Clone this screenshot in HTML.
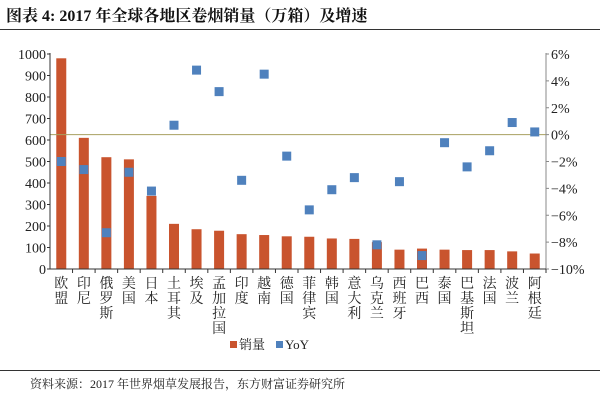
<!DOCTYPE html>
<html><head><meta charset="utf-8"><style>
body{margin:0;width:600px;height:400px;background:#fff;overflow:hidden}
svg text{font-family:"Liberation Serif","Noto Serif CJK SC",serif}
</style></head><body>
<svg id="c" width="600" height="400">
<text x="6" y="21" font-size="16" font-weight="bold" fill="#111">图表 4: 2017 年全球各地区卷烟销量（万箱）及增速</text>
<line x1="0" y1="29.5" x2="600" y2="29.5" stroke="#333" stroke-width="1"/>
<line x1="0" y1="370.5" x2="600" y2="370.5" stroke="#333" stroke-width="1"/>
<text x="30" y="388" font-size="12" fill="#222">资料来源：2017 年世界烟草发展报告，东方财富证券研究所</text>
<g>
<rect x="230" y="341" width="7" height="7" fill="#c9542e"/>
<text x="239" y="349" font-size="13" fill="#222">销量</text>
<rect x="276" y="341" width="7" height="7" fill="#4f81bd"/>
<text x="285" y="349" font-size="13" fill="#222">YoY</text>
</g>
<g id="g"></g>
</svg>
<script>
const categories=["欧盟","印尼","俄罗斯","美国","日本","土耳其","埃及","孟加拉国","印度","越南","德国","菲律宾","韩国","意大利","乌克兰","西班牙","巴西","泰国","巴基斯坦","法国","波兰","阿根廷"];
const sales=[980,610,520,510,340,210,185,178,162,158,152,150,142,140,125,90,95,90,88,88,82,72];
const yoy=[-2.0,-2.6,-7.3,-2.8,-4.2,0.7,4.8,3.2,-3.4,4.5,-1.6,-5.6,-4.1,-3.2,-8.2,-3.5,-9.0,-0.6,-2.4,-1.2,0.9,0.2];
const leftTicks=[0,100,200,300,400,500,600,700,800,900,1000];
const rightTicks=[-10,-8,-6,-4,-2,0,2,4,6];
const NS="http://www.w3.org/2000/svg",g=document.getElementById('g');
const X0=50,X1=546,Y0=269,Y1=54,step=(X1-X0)/categories.length;
const yL=v=>Y0-(v/1000)*(Y0-Y1);
const yR=v=>Y0-((v+10)/16)*(Y0-Y1);
const xc=i=>X0+step*(i+0.5);
function el(t,a,txt){const e=document.createElementNS(NS,t);for(const k in a)e.setAttribute(k,a[k]);if(txt!=null)e.textContent=txt;g.appendChild(e);return e;}
sales.forEach((v,i)=>{const e=el('rect',{x:xc(i)-5,y:yL(v),width:10,height:Y0-yL(v),fill:'#c9542e'});

});
let e=el('line',{x1:X0,y1:yR(0),x2:X1,y2:yR(0),stroke:'#a8a060','stroke-width':1});


yoy.forEach((v,i)=>{const s=el('rect',{x:xc(i)-4.5,y:yR(v)-4.5,width:9,height:9,fill:'#4f81bd'});

});
e=el('line',{x1:X0,y1:Y1-1,x2:X0,y2:Y0,stroke:'#333'});


e=el('line',{x1:X1,y1:Y1-1,x2:X1,y2:Y0,stroke:'#888'});


e=el('line',{x1:X0,y1:Y0,x2:X1,y2:Y0,stroke:'#333'});


leftTicks.forEach(v=>{el('line',{x1:X0-3,y1:yL(v),x2:X0,y2:yL(v),stroke:'#333'});
const t=el('text',{x:X0-4,y:yL(v)+5,'font-size':14,'text-anchor':'end',fill:'#222'},v);

});
rightTicks.forEach(v=>{el('line',{x1:X1,y1:yR(v),x2:X1+3,y2:yR(v),stroke:'#888'});
const t=el('text',{x:X1+5,y:yR(v)+5,'font-size':14,fill:'#222'},(v<0?'−'+(-v):v)+'%');

});
categories.forEach((c,i)=>{el('line',{x1:X0+step*(i+1),y1:Y0,x2:X0+step*(i+1),y2:Y0+4,stroke:'#333'});
const t=el('text',{'font-size':14,'text-anchor':'middle',fill:'#222'});


[...c].forEach((ch,j)=>{const ts=document.createElementNS(NS,'tspan');ts.setAttribute('x',xc(i));ts.setAttribute('y',288+j*15);ts.textContent=ch;t.appendChild(ts);});});
</script>
</body></html>
